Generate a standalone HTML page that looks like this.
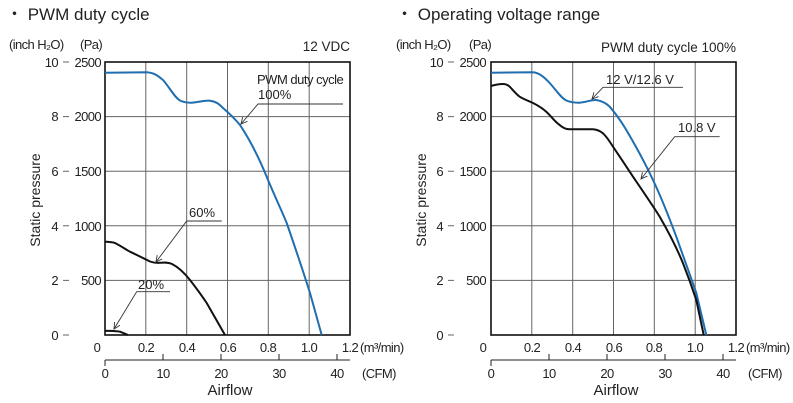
<!DOCTYPE html>
<html><head><meta charset="utf-8"><style>
html,body{margin:0;padding:0;background:#fff;width:793px;height:403px;overflow:hidden}
svg{display:block;font-family:"Liberation Sans",sans-serif}
.n{font-family:"Liberation Sans Narrow","Liberation Sans",sans-serif;font-size:13px;fill:#222;letter-spacing:-0.6px}
.g{stroke:#666;stroke-width:1;fill:none}
.b{stroke:#111;stroke-width:1.6;fill:none}
.bl{stroke:#1f6eb0;stroke-width:2;fill:none;stroke-linejoin:round}
.k{stroke:#111;stroke-width:2;fill:none;stroke-linejoin:round}
.a{stroke:#333;stroke-width:0.9;fill:none}
</style></head><body>
<svg width="793" height="403" viewBox="0 0 793 403">
<defs><marker id="ar" markerWidth="8" markerHeight="8" refX="7" refY="4" orient="auto"><path d="M0,0.5 L7,4 L0,7.5" fill="none" stroke="#333" stroke-width="1"/></marker></defs>
<text x="6" y="20" font-size="17" fill="#222">・ PWM duty cycle</text>
<text x="396" y="20" font-size="17" fill="#222">・ Operating voltage range</text>

<g id="L">
<text class="n" x="9" y="49" font-size="12">(inch H₂O)</text>
<text class="n" x="80" y="49" font-size="12">(Pa)</text>
<text x="350" y="51" font-size="13.5" text-anchor="end" fill="#222">12 VDC</text>
<g class="g">
<path d="M145.8,62V335M186.7,62V335M227.5,62V335M268.3,62V335M309.2,62V335"/>
<path d="M105,116.6H350M105,171.2H350M105,225.8H350M105,280.4H350"/>
<path d="M63,62H69M63,116.6H69M63,171.2H69M63,225.8H69M63,280.4H69M63,335H69"/>
</g>
<rect class="b" x="105" y="62" width="245" height="273"/>
<g class="n" text-anchor="end">
<text x="58" y="67">10</text><text x="58" y="121">8</text><text x="58" y="176">6</text><text x="58" y="231">4</text><text x="58" y="285">2</text><text x="58" y="340">0</text>
<text x="101" y="67">2500</text><text x="101" y="121">2000</text><text x="101" y="176">1500</text><text x="101" y="231">1000</text><text x="101" y="285">500</text>
</g>
<g class="n" text-anchor="middle">
<text x="97" y="352">0</text><text x="146" y="352">0.2</text><text x="187" y="352">0.4</text><text x="228" y="352">0.6</text><text x="268" y="352">0.8</text><text x="309" y="352">1.0</text><text x="350" y="352">1.2</text>
<text x="105" y="378">0</text><text x="163" y="378">10</text><text x="221" y="378">20</text><text x="279" y="378">30</text><text x="337" y="378">40</text>
</g>
<text class="n" x="360" y="352" font-size="11">(m³/min)</text>
<text class="n" x="362" y="378" font-size="11">(CFM)</text>
<path d="M105,360H350M105,360V366M163,360V354M221,360V354M279,360V354M337,360V354" stroke="#222" stroke-width="1"/>
<text x="230" y="395" font-size="15" text-anchor="middle" fill="#222">Airflow</text>
<text x="40" y="200" font-size="14" text-anchor="middle" fill="#222" transform="rotate(-90 40 200)">Static pressure</text>
<path class="bl" d="M105,72.7 L146.7,72.3 C155,73 158,76 163,80 C170,88 175,98 180,100.5 C184,102.5 188,102.8 192,102.7 C200,102 205,100 210,100.7 C216,101.5 219,104 223,108 C230,114 235,119 240,125 C250,140 259,158 266.7,176.7 C275,197 281,209 286.7,223 C296,250 304,274 310,293 L321.7,335"/>
<path class="k" d="M105,241.7 C110,242 112,242 115,243 C121,246 125,249 130,251.7 C138,255.5 143,258 150,261.5 C154,263 157,263 160,262.8 C164,262.5 168,262 172,264 C180,268 186,275 190,280 C197,289 202,296 206.7,303 L225,335"/>
<path class="k" d="M105,330.7 C112,331 117,331 120,331.7 L128,335"/>
<text x="257" y="84" font-size="13" fill="#222" letter-spacing="-0.5">PWM duty cycle</text>
<text x="258" y="99" font-size="13" fill="#222">100%</text>
<path class="a" d="M343,104H258L241,124" marker-end="url(#ar)"/>
<text x="189" y="217" font-size="13" fill="#222">60%</text>
<path class="a" d="M221.7,221H186.7L156,262" marker-end="url(#ar)"/>
<text x="138" y="289" font-size="13" fill="#222">20%</text>
<path class="a" d="M170,291.7H136.7L114,329" marker-end="url(#ar)"/>
</g>

<g id="R">
<text class="n" x="396" y="49" font-size="12">(inch H₂O)</text>
<text class="n" x="469" y="49" font-size="12">(Pa)</text>
<text x="736" y="52" font-size="13.5" text-anchor="end" fill="#222">PWM duty cycle 100%</text>
<g class="g">
<path d="M531.8,62V335M572.7,62V335M613.5,62V335M654.3,62V335M695.2,62V335"/>
<path d="M491,116.6H736M491,171.2H736M491,225.8H736M491,280.4H736"/>
<path d="M448,62H454M448,116.6H454M448,171.2H454M448,225.8H454M448,280.4H454M448,335H454"/>
</g>
<rect class="b" x="491" y="62" width="245" height="273"/>
<g class="n" text-anchor="end">
<text x="443" y="67">10</text><text x="443" y="121">8</text><text x="443" y="176">6</text><text x="443" y="231">4</text><text x="443" y="285">2</text><text x="443" y="340">0</text>
<text x="486" y="67">2500</text><text x="486" y="121">2000</text><text x="486" y="176">1500</text><text x="486" y="231">1000</text><text x="486" y="285">500</text>
</g>
<g class="n" text-anchor="middle">
<text x="483" y="352">0</text><text x="532" y="352">0.2</text><text x="573" y="352">0.4</text><text x="614" y="352">0.6</text><text x="654" y="352">0.8</text><text x="695" y="352">1.0</text><text x="736" y="352">1.2</text>
<text x="491" y="378">0</text><text x="549" y="378">10</text><text x="607" y="378">20</text><text x="665" y="378">30</text><text x="723" y="378">40</text>
</g>
<text class="n" x="746" y="352" font-size="11">(m³/min)</text>
<text class="n" x="748" y="378" font-size="11">(CFM)</text>
<path d="M491,360H736M491,360V366M549,360V354M607,360V354M665,360V354M723,360V354" stroke="#222" stroke-width="1"/>
<text x="616" y="395" font-size="15" text-anchor="middle" fill="#222">Airflow</text>
<text x="426" y="200" font-size="14" text-anchor="middle" fill="#222" transform="rotate(-90 426 200)">Static pressure</text>
<path class="bl" d="M491,72.7 L533,72.3 C540,73 545,78 549.7,83 C556,90 561,98 566.3,100.5 C571,102.5 575,102.8 579.7,102.7 C587,102 592,99.5 596.3,100 C602,101 606,103 609.7,106.7 C616,114 621,121 626.3,130 C637,148 645,163 653,180 C662,199 669,217 676.3,236.7 C684,258 690,275 696.3,293 L706.3,335"/>
<path class="k" d="M491,86 C496,84.5 500,84 503,84 C506,84 508,85 509.7,86.7 C513,90 516,94 519.7,96.7 C524,99.5 529,101 533,103 C538,105.5 542,108 546.3,111.7 C551,116 555,122 559.7,125 C563,128 566,129.3 569.7,129.3 L593,129.3 C597,129.5 600,131 603,133.3 C607,137 610,142 613,146.7 C620,157 626,166 633,176.7 C642,190 651,203 659.7,216.7 C668,231 676,246 683,263.3 C688,276 692,287 696.3,300 L703.7,335"/>
<text x="606" y="84" font-size="13" fill="#222">12 V/12.6 V</text>
<path class="a" d="M683,87.3H603L592,99" marker-end="url(#ar)"/>
<text x="678" y="132" font-size="13" fill="#222">10.8 V</text>
<path class="a" d="M719.7,136.7H674.7L641,179" marker-end="url(#ar)"/>
</g>
</svg>
</body></html>
